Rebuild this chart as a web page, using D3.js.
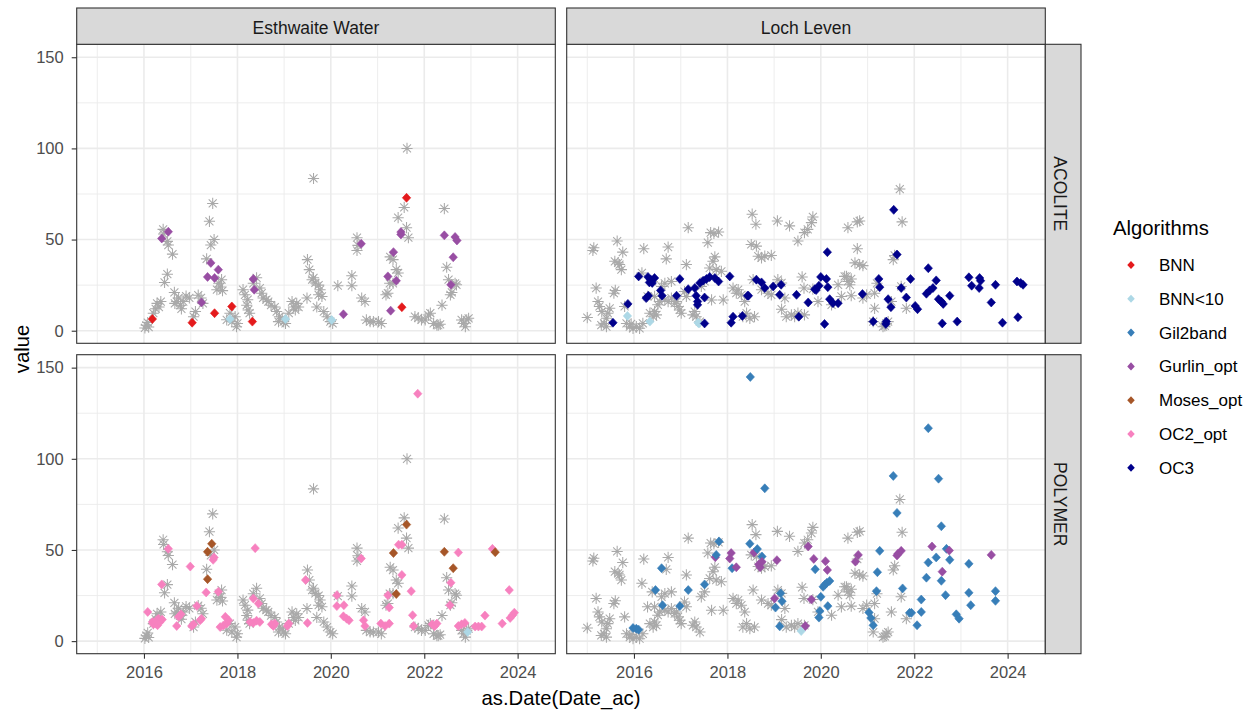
<!DOCTYPE html>
<html>
<head>
<meta charset="utf-8">
<script src="https://cdn.jsdelivr.net/npm/d3@7"></script>
<style>
  body { margin: 0; background: #fff; }
  text { font-family: "Liberation Sans", Arial, sans-serif; }
</style>
</head>
<body>
<svg id="chart" width="1249" height="712"></svg>
<script>
// Facet labels
const columns = ["Esthwaite Water", "Loch Leven"];
const rows = ["ACOLITE", "POLYMER"];

// Algorithm legend entries and colours
const algorithms = ["BNN", "BNN<10", "Gil2band", "Gurlin_opt", "Moses_opt", "OC2_opt", "OC3"];
const algorithmColors = ["#E41A1C", "#ADD8E6", "#377EB8", "#984EA3", "#A65628", "#F781BF", "#00008B"];

// Axis breaks
const yTicks = [0, 50, 100, 150];
const yMinorTicks = [25, 75, 125];
const xTickYears = [2016, 2018, 2020, 2022, 2024];
const xMinorYears = [2015, 2017, 2019, 2021, 2023];

// In-situ chlorophyll-a, [decimal year, value]
const esthInsitu = [
  [2016.02,1.5],[2016.05,3],[2016.08,4.5],[2016.1,2],
  [2016.2,9.6],[2016.25,12],[2016.28,15],[2016.32,13],[2016.36,16],
  [2016.41,55.6],[2016.42,53],[2016.5,49],[2016.52,47],[2016.61,42],[2016.5,31],[2016.44,26.5],
  [2016.65,21],[2016.7,16],[2016.78,14],[2016.84,16],[2016.9,19],[2016.74,18],[2016.66,15],[2016.8,12],[2016.97,18],
  [2017.06,7.7],[2017.1,10.5],[2017.16,19.5],[2017.22,18],[2017.26,15],
  [2017.34,39.4],[2017.4,60],[2017.47,69.8],[2017.43,47],[2017.5,50],[2017.6,26],[2017.66,28],[2017.56,22.5],[2017.68,22],[2017.63,24],
  [2017.77,6],[2017.84,9.6],[2017.88,5],[2017.98,2.2],[2018.0,4],[2017.95,7.7],
  [2018.12,22.5],[2018.16,19.7],[2018.2,14],[2018.23,11.4],[2018.26,9.6],[2018.22,17],
  [2018.41,29],[2018.34,26],[2018.48,23.4],[2018.52,20.6],[2018.55,18],[2018.62,17],[2018.66,16],[2018.72,14],[2018.8,13],[2018.84,10.5],[2018.9,7.7],[2018.88,5],
  [2018.96,6.8],[2019.03,4],[2018.99,5],[2019.1,9.6],[2019.17,16],[2019.2,13],[2019.24,11.4],[2019.27,15],[2019.31,13],
  [2019.49,17.9],[2019.5,39],[2019.54,33.5],[2019.6,28],[2019.63,83.5],[2019.63,29],[2019.67,26.2],[2019.74,25],[2019.77,22.5],[2019.74,19.7],[2019.81,18.8],[2019.7,13],[2019.85,10.5],[2019.92,7.7],[2019.99,5],[2020.04,4],[2020.15,24.7],
  [2020.45,30.2],[2020.45,24.7],[2020.56,51],[2020.58,46.8],[2020.56,44],[2020.66,17.9],[2020.73,16],[2020.76,5.9],[2020.84,5],[2020.91,5],[2021.02,5],[2021.08,4],
  [2021.18,19.7],[2021.22,20.6],[2021.26,26],[2021.33,26],[2021.4,33.5],[2021.44,31.7],[2021.27,40.5],[2021.33,39],[2021.44,62],[2021.57,67.6],[2021.63,100],[2021.62,56.5],[2021.66,51],
  [2021.8,7.7],[2021.87,7],[2021.94,5.9],[2022.02,5.9],[2022.09,8.6],[2022.13,9.6],[2022.2,4],[2022.27,3],[2022.3,3],[2022.34,3.5],
  [2022.38,14],[2022.48,34.8],[2022.43,67],[2022.52,28],[2022.56,19.7],[2022.59,21],[2022.69,25.2],[2022.66,26],
  [2022.8,5.9],[2022.84,4],[2022.91,5.9],[2022.88,2.2],[2022.95,6.8]
];

const levenInsitu = [
  [2015.0,7.2],[2015.12,44],[2015.14,45.5],[2015.19,23.4],[2015.23,16],[2015.26,13.3],[2015.31,10.5],[2015.3,3.1],[2015.36,4],[2015.41,6.8],[2015.41,2.2],[2015.44,9.6],[2015.48,12.3],
  [2015.57,20.6],[2015.6,22.1],[2015.59,38.1],[2015.64,49.2],[2015.66,37.2],[2015.69,36.3],[2015.73,33.5],[2015.76,43.1],[2015.8,13.3],
  [2015.84,4],[2015.91,2.2],[2015.94,3.7],[2015.98,1.3],[2016.05,2.2],[2016.12,1.3],[2016.19,4],[2016.17,31.7],[2016.21,45],
  [2016.29,18.8],[2016.34,9.6],[2016.39,27],[2016.41,7.7],[2016.44,10.5],[2016.44,18.8],[2016.48,8.7],[2016.51,14.2],[2016.55,16],[2016.59,24.3],
  [2016.66,26],[2016.66,17],[2016.69,39.4],[2016.73,45.9],[2016.73,16],[2016.8,27],[2016.8,17.9],[2016.87,15.1],[2016.91,16],[2016.94,13.3],[2016.98,11.4],[2017.01,9.6],
  [2017.08,21.5],[2017.12,36.3],[2017.12,18.8],[2017.16,56.5],[2017.26,8.7],[2017.3,10.5],[2017.33,7.7],[2017.41,5],[2017.44,24.3],[2017.51,27],
  [2017.58,48.3],[2017.62,34.4],[2017.64,53.8],[2017.66,16.9],[2017.69,38.1],[2017.71,53.4],[2017.73,40.5],[2017.76,33.5],[2017.81,54.1],[2017.87,32.6],[2017.91,16.9],
  [2018.12,23.4],[2018.19,20.6],[2018.23,22.5],[2018.3,19.7],[2018.33,7.7],[2018.37,16],[2018.41,9.6],[2018.48,6.8],[2018.51,47.3],[2018.53,63.9],[2018.55,28],[2018.58,7.7],
  [2018.61,58.4],[2018.62,46.4],[2018.66,40.9],[2018.73,40],[2018.73,22.5],[2018.8,40.9],[2018.87,20.6],[2018.94,41.3],[2018.94,19.7],
  [2019.07,60.2],[2019.08,28],[2019.16,26.2],[2019.16,11.8],[2019.23,17.9],[2019.26,7.7],[2019.33,57.5],[2019.37,8.7],[2019.44,7.7],[2019.51,49.2],[2019.51,9.6],
  [2019.6,29.5],[2019.64,23.4],[2019.65,53.8],[2019.65,8.7],[2019.72,55.6],[2019.8,59.3],[2019.83,62.4],[2019.83,22.8],[2019.94,16],
  [2020.23,14.2],[2020.37,25.2],[2020.44,18.8],[2020.51,29.8],[2020.55,29.8],[2020.58,27],[2020.58,56.5],[2020.62,25.2],[2020.65,28.4],[2020.65,19.2],
  [2020.73,37.2],[2020.78,45],[2020.78,59.7],[2020.83,60.2],[2020.83,36.3],[2020.9,35.7],[2020.9,17.9],[2020.98,19.7],
  [2021.12,5],[2021.15,20.6],[2021.15,12.3],[2021.2,26],[2021.33,2.2],[2021.37,2.6],[2021.4,4],[2021.44,5],[2021.51,16],[2021.55,39],[2021.58,41.3],
  [2021.69,77.7],[2021.72,24.3],[2021.74,59.7],[2021.83,12.3]
];

// Satellite retrievals, Esthwaite Water / ACOLITE
const esthAcoliteBNN = [[2016.18,6.4],[2017.03,4.4],[2017.51,9.6],[2017.88,13.3],[2018.32,5],[2021.52,12.9],[2021.62,72.9]];
const esthAcoliteBNN10 = [[2017.84,6.4],[2019.03,6.4],[2020.02,5.9]];
const esthAcoliteGurlin = [
  [2016.38,50.6],[2016.52,54.3],[2017.23,15.5],[2017.36,29.5],[2017.43,37.2],[2017.51,28.9],[2017.59,33.5],[2018.34,28.4],[2018.36,22.5],
  [2020.27,9],[2020.65,47.7],[2021.22,29.8],[2021.28,11],[2021.34,43.1],[2021.4,27.4],[2021.5,54.1],[2021.5,52.8],
  [2022.43,52.3],[2022.57,25.2],[2022.62,40.3],[2022.66,51.4],[2022.7,49.5]
];

// Esthwaite Water / POLYMER
const esthPolymerOC2 = [
  [2016.08,16],[2016.18,10.5],[2016.2,9.2],[2016.24,9.6],[2016.27,11.4],[2016.29,8.7],[2016.31,12.3],[2016.34,10.5],[2016.39,11.8],[2016.38,31.1],[2016.52,50.6],
  [2016.7,8.3],[2016.74,13.3],[2016.79,14.7],[2016.99,40.9],[2017.02,8.3],[2017.06,9.2],[2017.13,19.3],[2017.2,11.4],[2017.23,12.3],[2017.33,26.7],
  [2017.48,44.6],[2017.5,45.9],[2017.59,27.1],[2017.63,7.7],[2017.7,8.6],[2017.74,13.3],[2017.77,9.6],[2017.81,11.4],
  [2018.27,10.5],[2018.34,23.4],[2018.34,10],[2018.38,51],[2018.41,11.2],[2018.45,20.6],[2018.48,10.5],[2018.73,9.2],[2018.77,8.3],[2018.8,9.6],
  [2019.07,8.3],[2019.1,9.6],[2019.46,33.5],[2019.5,10],[2020.13,25.2],[2020.13,19.2],[2020.27,13.6],[2020.28,19.7],[2020.34,12.3],[2020.39,11.4],
  [2020.65,45.3],[2020.7,11.4],[2020.73,8.3],[2021.07,9.6],[2021.16,8.3],[2021.22,25.2],[2021.25,9.6],[2021.25,18.4],
  [2021.45,52.9],[2021.52,52.9],[2021.52,36.3],[2021.72,27.4],[2021.75,14.2],[2021.77,8.3],[2021.86,135.7],
  [2022.17,9.2],[2022.22,8.2],[2022.27,9.6],[2022.55,19.7],[2022.57,32],[2022.73,48.6],[2022.73,8.3],[2022.8,9.2],[2022.87,10],
  [2023.09,8],[2023.16,8],[2023.23,8],[2023.3,14],[2023.46,50.6],[2023.67,9.6],[2023.82,28],[2023.84,12.7],[2023.89,14.2],[2023.93,15.6]
];
const esthPolymerMoses = [[2017.36,34],[2017.36,49],[2017.45,53.4],[2021.34,48.3],[2021.4,25.8],[2021.62,63.9],[2022.43,49],[2022.62,40],[2023.52,48.8]];
const esthPolymerBNN10 = [[2022.93,5]];

// Loch Leven / ACOLITE
const levenAcoliteOC3 = [
  [2015.55,4.4],[2015.87,14.7],[2016.1,29.8],[2016.26,17.9],[2016.3,29.5],[2016.31,19.2],[2016.33,26.5],[2016.36,28],[2016.39,26.2],[2016.44,28.9],
  [2016.57,22.1],[2016.6,19.2],[2016.91,19.2],[2016.98,28.4],[2017.16,22.8],[2017.3,23.4],[2017.33,19.2],[2017.36,16],[2017.36,14.2],[2017.41,26.2],
  [2017.48,27.4],[2017.51,18.2],[2017.51,4],[2017.55,28.4],[2017.62,29.5],[2017.73,28.9],[2017.81,27],[2018.05,29.8],[2018.08,4.4],[2018.12,7.7],
  [2018.32,8.1],[2018.43,19.2],[2018.45,19.2],[2018.62,28],[2018.73,26.5],[2018.8,23.4],[2018.98,24.3],[2019.12,19.7],[2019.15,25.2],[2019.48,19.7],
  [2019.53,7.7],[2019.73,15.5],[2019.87,22.8],[2019.9,22.3],[2019.96,24.7],[2020.0,29.5],[2020.08,3.7],[2020.12,28.4],[2020.14,43.1],[2020.15,23.9],
  [2020.19,17.3],[2020.26,15.1],[2020.37,15.1],[2020.89,20.1],[2021.12,5],[2021.24,28.4],[2021.26,23.9],[2021.39,3.7],[2021.4,5],[2021.44,17.3],
  [2021.5,12.9],[2021.56,66.3],[2021.63,41.8],[2021.72,23.4],[2021.83,18.2],[2021.92,28.4],[2022.02,13.6],[2022.07,11.8],[2022.26,20.3],[2022.3,34.3],
  [2022.33,22.1],[2022.4,23.4],[2022.47,27.6],[2022.52,17.3],[2022.58,16],[2022.6,4],[2022.62,14.7],[2022.76,19.2],[2022.92,5],
  [2023.17,29.3],[2023.23,24.7],[2023.39,23.4],[2023.4,28.9],[2023.42,27.4],[2023.65,15.5],[2023.74,25.2],[2023.89,4.4],
  [2024.2,27],[2024.22,7.4],[2024.28,26.2],[2024.33,25.2]
];
const levenAcoliteBNN10 = [[2015.86,8.1],[2016.34,5],[2017.37,4.4],[2017.39,4]];

// Loch Leven / POLYMER
const levenPolymerGil2band = [
  [2015.98,7.2],[2016.05,6.8],[2016.1,6.3],[2016.46,28],[2016.59,40],[2016.61,19.7],[2016.98,19.2],[2017.16,28],[2017.51,31.1],[2017.76,47.3],
  [2017.82,54.7],[2018.1,40],[2018.48,53.4],[2018.49,144.9],[2018.64,50.5],[2018.74,46.4],[2018.8,83.8],[2019.03,18.4],[2019.12,8.1],[2019.14,26.2],
  [2019.17,21.9],[2019.88,39.4],[2019.96,12.9],[2019.98,16.5],[2020.0,24.3],[2020.05,29.8],[2020.09,31],[2020.13,32],[2020.15,19.2],[2020.19,33],
  [2021.03,15.7],[2021.07,12.7],[2021.12,8.7],[2021.19,27.4],[2021.21,37.8],[2021.26,49.5],[2021.55,90.6],[2021.63,70.3],[2021.75,28.9],[2021.9,15.5],
  [2021.94,15.5],[2022.06,8.7],[2022.15,22.8],[2022.15,16],[2022.26,34.8],[2022.3,43.1],[2022.3,116.8],[2022.47,45.9],[2022.52,89.1],[2022.58,63],
  [2022.58,33.1],[2022.67,25.2],[2022.69,50.6],[2022.76,44.6],[2022.9,14.7],[2022.96,12.3],[2023.17,42.4],[2023.17,26.5],[2023.21,19.7],
  [2023.74,27.4],[2023.74,22.1]
];
const levenPolymerGurlin = [
  [2017.74,46],[2018.05,45.3],[2018.08,48.3],[2018.19,40.5],[2018.57,48.6],[2018.67,42],[2018.7,40.5],[2018.74,43.5],[2019.01,23.4],[2019.06,44.4],
  [2019.67,8.3],[2019.73,51.9],[2019.8,22.8],[2019.85,45.1],[2020.1,43.8],[2020.14,39],[2020.74,43.6],[2020.8,47.3],[2021.63,47],[2021.65,47.9],
  [2021.72,49.5],[2022.38,51.9],[2022.6,38.1],[2022.75,49.7],[2023.65,47.3]
];
const levenPolymerBNN10 = [[2019.58,5.5]];

// Facet contents: column, row, in-situ series, algorithm series
const panels = [
  { col: 0, row: 0, insitu: esthInsitu, series: [["BNN", esthAcoliteBNN], ["BNN<10", esthAcoliteBNN10], ["Gurlin_opt", esthAcoliteGurlin]] },
  { col: 1, row: 0, insitu: levenInsitu, series: [["BNN<10", levenAcoliteBNN10], ["OC3", levenAcoliteOC3]] },
  { col: 0, row: 1, insitu: esthInsitu, series: [["BNN<10", esthPolymerBNN10], ["Moses_opt", esthPolymerMoses], ["OC2_opt", esthPolymerOC2]] },
  { col: 1, row: 1, insitu: levenInsitu, series: [["BNN<10", levenPolymerBNN10], ["Gil2band", levenPolymerGil2band], ["Gurlin_opt", levenPolymerGurlin]] }
];

// ---- layout ----
const svg = d3.select("#chart");
const L = { left: 76.7, top: 44.3, pw: 478.6, ph: 299, gap: 11.4, stripTop: 8, stripW: 35.7 };
const panelX = c => L.left + c * (L.pw + L.gap);
const panelY = r => L.top + r * (L.ph + L.gap);

// decimal year -> Date
const yd = y => {
  const yr = Math.floor(y);
  const a = Date.UTC(yr, 0, 1), b = Date.UTC(yr + 1, 0, 1);
  return new Date(a + (y - yr) * (b - a));
};

const x = d3.scaleUtc().domain([yd(2014.559), yd(2024.805)]).range([0, L.pw]);
const y = d3.scaleLinear().domain([-6.9, 157.1]).range([L.ph, 0]);
const color = d3.scaleOrdinal().domain(algorithms).range(algorithmColors);

const diamond = "M0,-4.5L4.2,0L0,4.5L-4.2,0Z";
const star = (() => {
  const r = 5.6, a = 4;
  return `M${-r},0H${r}M0,${-r}V${r}M${-a},${-a}L${a},${a}M${-a},${a}L${a},${-a}`;
})();

panels.forEach(p => {
  const g = svg.append("g").attr("transform", `translate(${panelX(p.col)},${panelY(p.row)})`);

  // gridlines
  g.selectAll(".gxm").data(xMinorYears).join("line")
    .attr("x1", d => x(yd(d))).attr("x2", d => x(yd(d)))
    .attr("y1", 0).attr("y2", L.ph).attr("stroke", "#EBEBEB").attr("stroke-width", 0.9);
  g.selectAll(".gym").data(yMinorTicks).join("line")
    .attr("y1", d => y(d)).attr("y2", d => y(d))
    .attr("x1", 0).attr("x2", L.pw).attr("stroke", "#EBEBEB").attr("stroke-width", 0.9);
  g.selectAll(".gx").data(xTickYears).join("line")
    .attr("x1", d => x(yd(d))).attr("x2", d => x(yd(d)))
    .attr("y1", 0).attr("y2", L.ph).attr("stroke", "#EBEBEB").attr("stroke-width", 1.6);
  g.selectAll(".gy").data(yTicks).join("line")
    .attr("y1", d => y(d)).attr("y2", d => y(d))
    .attr("x1", 0).attr("x2", L.pw).attr("stroke", "#EBEBEB").attr("stroke-width", 1.6);

  // in-situ observations
  g.append("g").selectAll("path").data(p.insitu).join("path")
    .attr("d", star)
    .attr("transform", d => `translate(${x(yd(d[0]))},${y(d[1])})`)
    .attr("fill", "none").attr("stroke", "#A9A9A9").attr("stroke-width", 1.05);

  // algorithm retrievals, drawn in date order
  const pts = [];
  p.series.forEach(([alg, arr]) => arr.forEach(d => pts.push({ alg, t: d[0], v: d[1] })));
  pts.sort((a, b) => a.t - b.t);
  g.append("g").selectAll("path").data(pts).join("path")
    .attr("d", diamond)
    .attr("transform", d => `translate(${x(yd(d.t))},${y(d.v)})`)
    .attr("fill", d => color(d.alg))
    .attr("stroke", d => color(d.alg)).attr("stroke-width", 0.6).attr("stroke-linejoin", "round");

  // panel border
  g.append("rect").attr("width", L.pw).attr("height", L.ph)
    .attr("fill", "none").attr("stroke", "#333333").attr("stroke-width", 1.1);

  // axes
  if (p.col === 0) {
    const ay = g.append("g").call(d3.axisLeft(y).tickValues(yTicks).tickSize(5).tickPadding(8));
    ay.select(".domain").remove();
    ay.selectAll("line").attr("stroke", "#333333").attr("stroke-width", 1.1);
    ay.selectAll("text").attr("fill", "#4D4D4D").style("font-size", "16.5px");
  }
  if (p.row === 1) {
    const ax = g.append("g").attr("transform", `translate(0,${L.ph})`)
      .call(d3.axisBottom(x).tickValues(xTickYears.map(yd)).tickFormat(d3.utcFormat("%Y")).tickSize(5).tickPadding(8));
    ax.select(".domain").remove();
    ax.selectAll("line").attr("stroke", "#333333").attr("stroke-width", 1.1);
    ax.selectAll("text").attr("fill", "#4D4D4D").style("font-size", "16.5px");
  }
});

// column strips
columns.forEach((name, c) => {
  svg.append("rect").attr("x", panelX(c)).attr("y", L.stripTop)
    .attr("width", L.pw).attr("height", L.top - L.stripTop)
    .attr("fill", "#D9D9D9").attr("stroke", "#333333").attr("stroke-width", 1.1);
  svg.append("text").attr("x", panelX(c) + L.pw / 2).attr("y", 34.3)
    .attr("text-anchor", "middle").attr("fill", "#1A1A1A").style("font-size", "17.5px").text(name);
});

// row strips
const stripX = panelX(1) + L.pw;
rows.forEach((name, r) => {
  svg.append("rect").attr("x", stripX).attr("y", panelY(r))
    .attr("width", L.stripW).attr("height", L.ph)
    .attr("fill", "#D9D9D9").attr("stroke", "#333333").attr("stroke-width", 1.1);
  svg.append("text")
    .attr("transform", `translate(${stripX + 8.2},${panelY(r) + L.ph / 2}) rotate(90)`)
    .attr("text-anchor", "middle").attr("fill", "#1A1A1A").style("font-size", "17.5px").text(name);
});

// axis titles
svg.append("text").attr("x", (panelX(0) + stripX) / 2).attr("y", 705)
  .attr("text-anchor", "middle").attr("fill", "#000").style("font-size", "20.3px").text("as.Date(Date_ac)");
svg.append("text").attr("transform", `translate(29,${(panelY(0) + panelY(1) + L.ph) / 2}) rotate(-90)`)
  .attr("text-anchor", "middle").attr("fill", "#000").style("font-size", "20.3px").text("value");

// legend
const lg = svg.append("g");
lg.append("text").attr("x", 1113).attr("y", 235).attr("fill", "#000").style("font-size", "20.3px").text("Algorithms");
const items = lg.selectAll(".item").data(algorithms).join("g")
  .attr("transform", (d, i) => `translate(0,${265 + i * 33.8})`);
items.append("path").attr("d", diamond).attr("transform", "translate(1131,0) scale(0.9)").attr("fill", d => color(d));
items.append("text").attr("x", 1159).attr("y", 6).attr("fill", "#000").style("font-size", "17px").text(d => d);
</script>
</body>
</html>
